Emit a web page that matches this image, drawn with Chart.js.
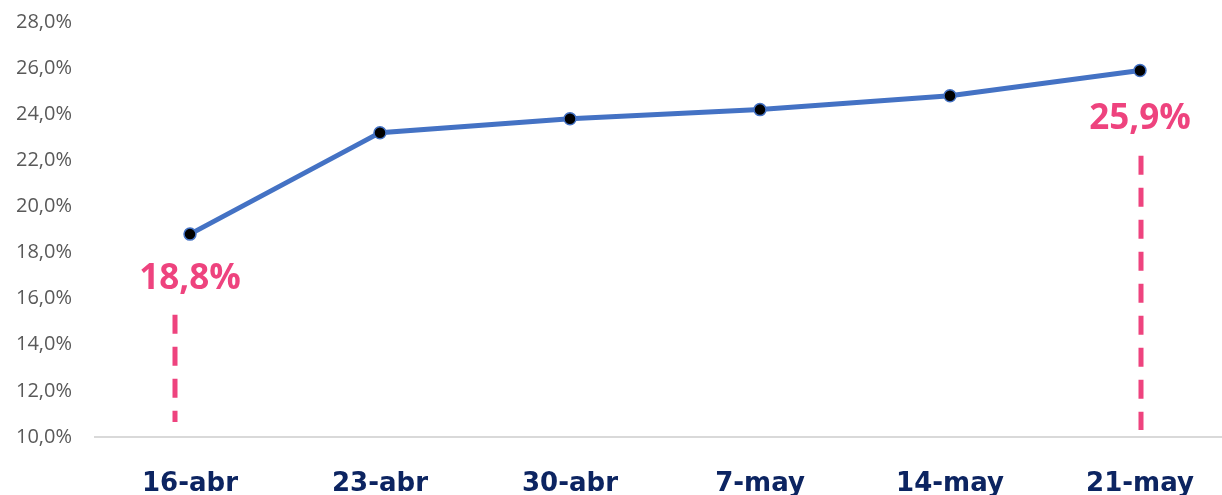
<!DOCTYPE html>
<html>
<head>
<meta charset="utf-8">
<script src="https://cdn.jsdelivr.net/npm/chart.js@4/dist/chart.umd.min.js"></script>
<style>
  html, body { margin: 0; padding: 0; background: #fff; overflow: hidden; }
  #wrap { width: 1235px; height: 500px; }
  canvas { display: block; }
</style>
</head>
<body>
<div id="wrap"><canvas id="chart" width="1235" height="500"></canvas></div>
<script>
const labels = ['16-abr', '23-abr', '30-abr', '7-may', '14-may', '21-may'];
const values = [18.8, 23.2, 23.8, 24.2, 24.8, 25.9];
const yTicks = [10, 12, 14, 16, 18, 20, 22, 24, 26, 28];

// Anmerkungen: Wert-Label + gestrichelte Linie unter dem Punkt
const notes = [
  { index: 0, labelAt: 16.85, dashTop: 15.3, dashBottom: 10.65, dx: -15 },
  { index: 5, labelAt: 23.8, dashTop: 22.2, dashBottom: 10.3, dx: 1 }
];

const fmt = (v) => v.toFixed(1).replace('.', ',') + '%';

const notesPlugin = {
  id: 'notes',
  afterDatasetsDraw(chart) {
    const { ctx, scales: { x, y } } = chart;
    ctx.save();
    notes.forEach((n) => {
      const px = x.getPixelForValue(n.index);
      // gestrichelte Linie
      ctx.strokeStyle = '#EE437E';
      ctx.lineWidth = 5;
      ctx.setLineDash([19, 13]);
      ctx.beginPath();
      ctx.moveTo(px + n.dx, y.getPixelForValue(n.dashTop));
      ctx.lineTo(px + n.dx, y.getPixelForValue(n.dashBottom));
      ctx.stroke();
      // Label
      ctx.setLineDash([]);
      ctx.fillStyle = '#EE437E';
      ctx.font = 'bold 35px "Open Sans", sans-serif';
      ctx.textAlign = 'center';
      ctx.textBaseline = 'middle';
      ctx.fillText(fmt(values[n.index]), px, y.getPixelForValue(n.labelAt));
    });
    ctx.restore();
  }
};

new Chart(document.getElementById('chart'), {
  type: 'line',
  data: {
    labels,
    datasets: [{
      data: values,
      borderColor: '#4472C4',
      borderWidth: 5,
      tension: 0,
      pointRadius: 6,
      pointBorderWidth: 1.5,
      pointBackgroundColor: '#000',
      pointBorderColor: '#4472C4'
    }]
  },
  options: {
    responsive: false,
    animation: false,
    layout: { autoPadding: false, padding: { top: 22, right: 0, left: 0, bottom: 0 } },
    plugins: {
      legend: { display: false },
      tooltip: { enabled: false }
    },
    scales: {
      x: {
        offset: true,
        grid: { display: false, drawTicks: false },
        border: { display: true, color: '#D9D9D9', width: 2 },
        ticks: {
          color: '#0C2461',
          font: { family: 'DejaVu Sans', weight: 'bold', size: 26 },
          padding: 32
        },
        afterFit(scale) { scale.height = 63; }
      },
      y: {
        min: 10,
        max: 28,
        afterBuildTicks(scale) { scale.ticks = yTicks.map(v => ({ value: v })); },
        grid: { display: false, drawTicks: false },
        border: { display: false },
        ticks: {
          color: '#595959',
          font: { family: 'Open Sans', size: 20 },
          padding: 23,
          callback: (v) => fmt(v)
        },
        afterFit(scale) {
          scale.width = 95;
          scale.paddingTop = 0;
          scale.paddingBottom = 0;
        }
      }
    }
  },
  plugins: [notesPlugin]
});
</script>
</body>
</html>
